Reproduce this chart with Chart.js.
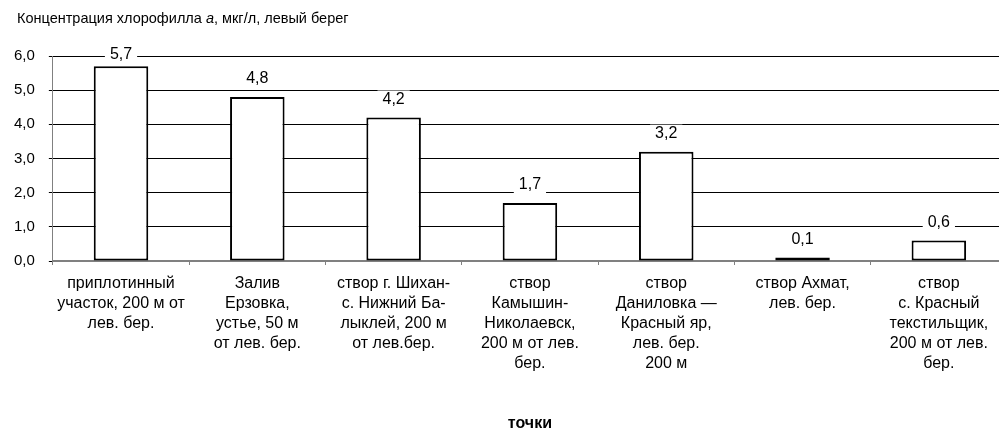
<!DOCTYPE html>
<html lang="ru">
<head>
<meta charset="utf-8">
<title>Концентрация хлорофилла a</title>
<script src="https://cdn.jsdelivr.net/npm/chart.js@4.4.1/dist/chart.umd.min.js"></script>
<style>
    html, body {
        margin: 0;
        padding: 0;
        background: #ffffff;
        overflow: hidden;
    }
    #wrap {
        position: relative;
        width: 999px;
        height: 430px;
        overflow: hidden;
    }
    #chart-title {
        position: absolute;
        left: 17px;
        top: 10px;
        font: 14.5px "Liberation Sans", Arial, sans-serif;
        color: #000;
        white-space: nowrap;
    }
    #chl-chart {
        position: absolute;
        left: 0;
        top: 0;
    }
</style>
</head>
<body>
<div id="wrap">
    <canvas id="chl-chart" width="1010" height="430"></canvas>
    <div id="chart-title">Концентрация хлорофилла <i>a</i>, мкг/л, левый берег</div>
</div>

<script>
// Sampling points (left bank), split into lines as they are printed under the axis
const stations = [
    ['приплотинный', 'участок, 200 м от', 'лев. бер.'],
    ['Залив', 'Ерзовка,', 'устье, 50 м', 'от лев. бер.'],
    ['створ г. Шихан-', 'с. Нижний Ба-', 'лыклей, 200 м', 'от лев.бер.'],
    ['створ', 'Камышин-', 'Николаевск,', '200 м от лев.', 'бер.'],
    ['створ', 'Даниловка —', 'Красный яр,', 'лев. бер.', '200 м'],
    ['створ Ахмат,', 'лев. бер.'],
    ['створ', 'с. Красный', 'текстильщик,', '200 м от лев.', 'бер.']
];

// Chlorophyll a, mcg/l
const chlorophyll = [5.7, 4.8, 4.2, 1.7, 3.2, 0.1, 0.6];

// Y axis ticks
const yTicks = [0, 1, 2, 3, 4, 5, 6];

const FONT = '"Liberation Sans", Arial, sans-serif';

const fmt = v => v.toFixed(1).replace('.', ',');

// Value captions over the bars, on a white plate so the grid does not cross them
const valueLabels = {
    id: 'valueLabels',
    afterDatasetsDraw(chart) {
        const ctx = chart.ctx;
        const area = chart.chartArea;
        const meta = chart.getDatasetMeta(0);
        ctx.save();
        ctx.font = '16px ' + FONT;
        ctx.textAlign = 'center';
        ctx.textBaseline = 'middle';
        meta.data.forEach((bar, i) => {
            const text = fmt(chlorophyll[i]);
            const y = Math.max(bar.y - 18, area.top - 1);
            const w = ctx.measureText(text).width + 10;
            ctx.fillStyle = '#ffffff';
            ctx.fillRect(bar.x - w / 2, y - 9, w, 18);
            ctx.fillStyle = '#000000';
            ctx.fillText(text, bar.x, y);
        });
        ctx.restore();
    }
};

new Chart(document.getElementById('chl-chart'), {
    type: 'bar',
    data: {
        labels: stations,
        datasets: [{
            data: chlorophyll,
            backgroundColor: '#ffffff',
            borderColor: '#000000',
            borderWidth: 2,
            borderSkipped: false,
            categoryPercentage: 1,
            barPercentage: 0.4
        }]
    },
    options: {
        responsive: false,
        animation: false,
        events: [],
        layout: {
            padding: { top: 56, left: 0, right: 3, bottom: 0 }
        },
        plugins: {
            legend: { display: false },
            tooltip: { enabled: false }
        },
        scales: {
            x: {
                grid: {
                    offset: true,
                    drawOnChartArea: false,
                    tickLength: 4,
                    tickColor: '#808080'
                },
                border: { color: '#808080', width: 2 },
                ticks: {
                    autoSkip: false,
                    maxRotation: 0,
                    minRotation: 0,
                    padding: 9,
                    color: '#000000',
                    font: { family: FONT, size: 16, lineHeight: '20px' }
                },
                title: {
                    display: true,
                    text: 'точки',
                    color: '#000000',
                    font: { family: FONT, size: 16, weight: 'bold', lineHeight: '12px' },
                    padding: { top: 35, bottom: 0 }
                }
            },
            y: {
                min: 0,
                max: 6,
                afterBuildTicks: scale => {
                    scale.ticks = yTicks.map(v => ({ value: v }));
                },
                grid: {
                    color: c => (c.tick && c.tick.value === 0) ? 'rgba(0,0,0,0)' : '#000000',
                    tickColor: '#000000',
                    tickLength: 4,
                    lineWidth: 1
                },
                border: { color: '#808080', width: 1 },
                ticks: {
                    padding: 14,
                    color: '#000000',
                    font: { family: FONT, size: 15 },
                    callback: v => fmt(v)
                }
            }
        }
    },
    plugins: [valueLabels]
});
</script>
</body>
</html>
